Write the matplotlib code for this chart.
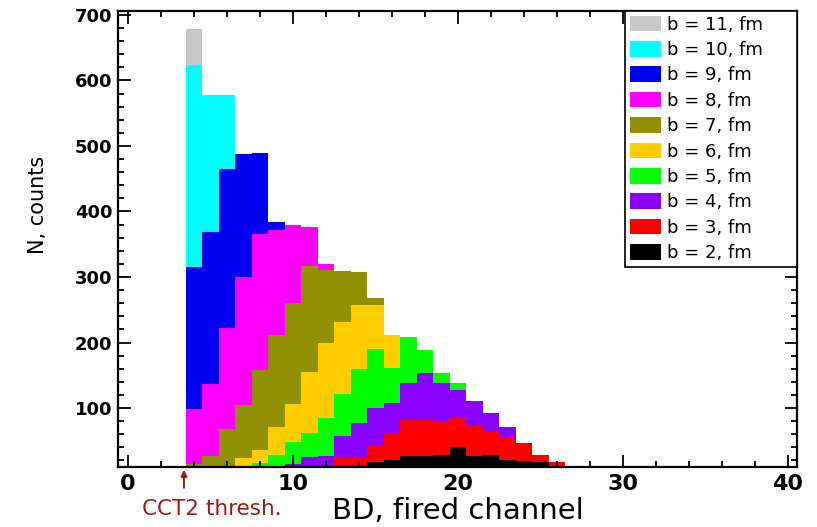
import numpy as np
import matplotlib
matplotlib.use("Agg")
import matplotlib.pyplot as plt
import matplotlib.transforms as mtransforms
from matplotlib.patches import Patch
from matplotlib.ticker import MultipleLocator

# bins of width 1, centred on channels 4..26
bin_centers = list(range(4, 27))

labels = ["b = 11, fm", "b = 10, fm", "b = 9, fm", "b = 8, fm", "b = 7, fm",
          "b = 6, fm", "b = 5, fm", "b = 4, fm", "b = 3, fm", "b = 2, fm"]
colors = ["#c8c8c8", "#00ffff", "#0000f0", "#ff00ff", "#909000",
          "#ffcc00", "#00ff00", "#8800ff", "#ff0000", "#000000"]

counts_b11 = [678, 520, 430, 330, 250, 180, 120, 80, 50, 30, 18, 10, 0, 0, 0, 0, 0, 0, 0, 0, 0, 0, 0]
counts_b10 = [624, 578, 578, 470, 380, 290, 210, 150, 100, 60, 35, 20, 10, 0, 0, 0, 0, 0, 0, 0, 0, 0, 0]
counts_b9 = [316, 368, 465, 488, 489, 384, 320, 260, 190, 130, 90, 55, 35, 20, 10, 0, 0, 0, 0, 0, 0, 0, 0]
counts_b8 = [98, 137, 222, 300, 365, 372, 379, 376, 320, 280, 230, 180, 130, 90, 60, 40, 25, 12, 0, 0, 0, 0, 0]
counts_b7 = [15, 27, 68, 105, 158, 211, 260, 317, 311, 309, 307, 268, 200, 150, 110, 75, 50, 30, 18, 8, 0, 0, 0]
counts_b6 = [0, 3, 8, 24, 36, 71, 106, 155, 199, 232, 257, 257, 211, 180, 140, 100, 70, 45, 28, 15, 6, 0, 0]
counts_b5 = [0, 0, 0, 0, 16, 28, 48, 62, 85, 121, 160, 190, 161, 209, 189, 153, 138, 100, 70, 45, 25, 10, 0]
counts_b4 = [0, 0, 0, 0, 0, 0, 15, 25, 27, 58, 77, 100, 108, 138, 154, 138, 128, 111, 93, 71, 46, 22, 8]
counts_b3 = [0, 0, 0, 0, 0, 0, 0, 0, 8, 24, 24, 43, 62, 82, 82, 80, 86, 74, 64, 54, 45, 28, 18]
counts_b2 = [0, 0, 0, 0, 0, 0, 0, 0, 0, 0, 0, 17, 20, 27, 26, 28, 40, 27, 28, 21, 19, 17, 0]

series = [counts_b11, counts_b10, counts_b9, counts_b8, counts_b7,
          counts_b6, counts_b5, counts_b4, counts_b3, counts_b2]

thresh = 3.4
thresh_color = "#9b1b1b"

fig = plt.figure(figsize=(8.17, 5.27), dpi=100, facecolor="w")
ax = fig.add_axes([0.1444, 0.1139, 0.8311, 0.8652])

edges = np.append(np.array(bin_centers) - 0.5, bin_centers[-1] + 0.5)
# drawn back to front: widest impact parameter first
for vals, col in zip(series, colors):
    ax.stairs(vals, edges, fill=True, color=col, linewidth=0)

ax.set_xlim(-0.6, 40.55)
ax.set_ylim(10, 706)

ax.xaxis.set_major_locator(MultipleLocator(10))
ax.xaxis.set_minor_locator(MultipleLocator(2))
ax.yaxis.set_major_locator(MultipleLocator(100))
ax.yaxis.set_minor_locator(MultipleLocator(20))
ax.tick_params(which="both", direction="in", top=True, right=True, width=1.3)
ax.tick_params(which="major", length=9)
ax.tick_params(which="minor", length=4.5)
ax.tick_params(axis="x", pad=5, labelsize=16)
ax.tick_params(axis="y", pad=4, labelsize=13)
for lab in ax.get_xticklabels() + ax.get_yticklabels():
    lab.set_fontweight("bold")
for sp in ax.spines.values():
    sp.set_linewidth(1.6)

ax.set_xlabel("BD, fired channel", fontsize=21)
ax.xaxis.set_label_coords(0.5, -0.065)
ax.set_ylabel("N, counts", fontsize=15)
ax.yaxis.set_label_coords(-0.103, 0.575)

# threshold marker under the axis
trans = mtransforms.blended_transform_factory(ax.transData, ax.transAxes)
ax.annotate("", xy=(thresh, 0.0), xycoords=trans, xytext=(thresh, -0.052), textcoords=trans,
            arrowprops=dict(arrowstyle="-|>", color=thresh_color, lw=1.4, mutation_scale=9),
            annotation_clip=False)
ax.text(5.1, -0.092, "CCT2 thresh.", transform=trans, ha="center", va="center",
        fontsize=15.5, color=thresh_color)

handles = [Patch(facecolor=c, edgecolor="none") for c in colors]
leg = ax.legend(handles, labels, loc="upper left", bbox_to_anchor=(0.7467, 0.0, 0.2533, 1.0),
                mode="expand", borderaxespad=0, fontsize=13, fancybox=False, framealpha=1,
                edgecolor="black", handlelength=1.72, handleheight=0.95, handletextpad=0.35,
                labelspacing=0.41, borderpad=0.25)
leg.get_frame().set_linewidth(1.2)

fig.savefig("out.png", dpi=100)
